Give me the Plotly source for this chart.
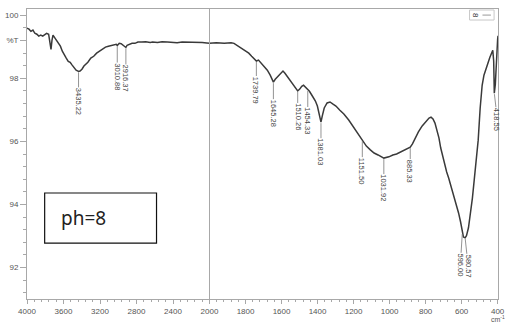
import numpy as np
import plotly.graph_objects as go

# FTIR transmittance spectrum (ph=8), wavenumber in cm-1, transmittance in %T
wavenumber = [
    4000, 3978, 3957, 3935, 3914, 3892, 3871, 3849, 3828, 3806, 3785, 3763,
    3747, 3737, 3726, 3715, 3699, 3677, 3656, 3634, 3613, 3591, 3570, 3548,
    3527, 3505, 3484, 3462, 3441, 3435.22, 3419, 3398, 3376, 3355, 3333, 3301,
    3269, 3237, 3204, 3172, 3140, 3108, 3075, 3043, 3022, 3010.88, 2989, 2968,
    2946, 2930, 2916.37, 2903, 2882, 2849, 2817, 2785, 2742, 2699, 2650, 2624,
    2570, 2520, 2462, 2410, 2355, 2300, 2247, 2190, 2140, 2080, 2030, 2000,
    1962, 1918, 1880, 1864, 1848, 1831, 1815, 1799, 1782, 1766, 1755, 1739.79,
    1728, 1712, 1695, 1679, 1663, 1645.28, 1635, 1619, 1603, 1592, 1581, 1565,
    1548, 1532, 1520, 1510.26, 1499, 1488, 1478, 1467, 1454.33, 1445, 1429,
    1412, 1401, 1390, 1381.03, 1374, 1363, 1347, 1331, 1314, 1298, 1276, 1254,
    1227, 1200, 1173, 1151.50, 1129, 1107, 1086, 1064, 1042, 1031.92, 1004,
    982, 961, 939, 917, 895, 885.33, 873, 857, 840, 819, 797, 781, 770, 759,
    748, 737, 726, 716, 705, 694, 683, 672, 661, 650, 639, 628, 617, 606,
    596.00, 590, 580.57, 573, 562, 551, 540, 530, 520, 508, 497, 486, 476,
    465, 454, 443, 432, 427, 422, 418.55, 413, 406, 400, 398,
]
transmittance = [
    99.59, 99.56, 99.49, 99.53, 99.43, 99.40, 99.34, 99.37, 99.34, 99.40, 99.43, 99.40,
    99.15, 98.92, 99.21, 99.37, 99.30, 99.21, 99.15, 99.02, 98.86, 98.73, 98.64, 98.54,
    98.51, 98.42, 98.32, 98.26, 98.23, 98.22, 98.23, 98.29, 98.39, 98.45, 98.51, 98.64,
    98.70, 98.80, 98.86, 98.92, 98.99, 99.02, 99.05, 99.08, 99.08, 99.04, 99.11, 99.10,
    99.05, 99.01, 98.98, 99.05, 99.08, 99.11, 99.11, 99.15, 99.15, 99.16, 99.14, 99.15,
    99.14, 99.16, 99.15, 99.14, 99.13, 99.15, 99.15, 99.13, 99.13, 99.14, 99.12, 99.11,
    99.13, 99.11, 99.13, 99.11, 99.05, 98.99, 98.92, 98.86, 98.80, 98.70, 98.64, 98.55,
    98.58, 98.48, 98.35, 98.26, 98.10, 97.88, 97.97, 98.07, 98.16, 98.23, 98.16, 98.04,
    97.91, 97.78, 97.68, 97.60, 97.66, 97.75, 97.78, 97.72, 97.63, 97.59, 97.44,
    97.28, 97.12, 96.87, 96.61, 96.80, 97.06, 97.22, 97.25, 97.18, 97.12, 96.99, 96.87,
    96.68, 96.46, 96.23, 96.04, 95.85, 95.73, 95.63, 95.57, 95.51, 95.47, 95.51,
    95.57, 95.60, 95.66, 95.73, 95.79, 95.82, 95.92, 96.11, 96.30, 96.49, 96.65, 96.74, 96.77, 96.71,
    96.58, 96.36, 96.11, 95.79, 95.51, 95.25, 95.03, 94.84, 94.62, 94.40, 94.21, 93.99, 93.73, 93.45,
    93.10, 92.97, 92.94, 93.01, 93.26, 93.67, 94.21, 94.78, 95.41, 96.04, 97.06, 97.78, 98.10,
    98.26, 98.48, 98.67, 98.83, 98.89, 98.55, 97.53, 97.80, 98.90, 99.25, 99.35,
]

# labelled band positions
peak_labels = ["3435.22", "3010.88", "2916.37", "1739.79", "1645.28", "1510.26",
               "1454.33", "1381.03", "1151.50", "1031.92", "885.33", "596.00",
               "580.57", "418.55"]
peak_wn = [float(s) for s in peak_labels]

# axis ticks
left_ticks = [4000, 3600, 3200, 2800, 2400, 2000]
right_ticks = [1800, 1600, 1400, 1200, 1000, 800, 600, 400]
y_tickvals = [100, 99.2, 98, 96, 94, 92]
y_ticktext = ["100", "%T", "98", "96", "94", "92"]

wn = np.array(wavenumber)
tr = np.array(transmittance)
high = wn >= 2000
low = wn <= 2000

LINE = "#3a3a3a"
AXIS = "#a8a8a8"
SANS = "Liberation Sans, Arial, sans-serif"
TICKFONT = dict(family=SANS, size=8, color="#555555")

fig = go.Figure()
fig.add_trace(go.Scatter(x=wn[high], y=tr[high], mode="lines",
                         line=dict(color=LINE, width=1.5), xaxis="x", yaxis="y",
                         showlegend=False, hoverinfo="skip"))
fig.add_trace(go.Scatter(x=wn[low], y=tr[low], mode="lines",
                         line=dict(color=LINE, width=1.5), xaxis="x2", yaxis="y2",
                         showlegend=False, hoverinfo="skip"))

split = 0.3875
common_x = dict(showline=True, mirror=True, linecolor=AXIS, linewidth=1,
                showgrid=False, zeroline=False, ticks="outside", ticklen=4,
                tickcolor=AXIS, tickfont=TICKFONT)

# leader offsets (pixels) for the band labels: (dx, dy)
offsets = {
    "3435.22": (0, 30), "3010.88": (0, 31), "2916.37": (0, 31), "1739.79": (0, 29),
    "1645.28": (0, 31), "1510.26": (0, 26), "1454.33": (0, 31), "1381.03": (0, 30),
    "1151.50": (0, 31), "1031.92": (0, 30), "885.33": (0, 24), "596.00": (-2, 32),
    "580.57": (3, 28), "418.55": (3, 26),
}

annotations = []
for lab, w in zip(peak_labels, peak_wn):
    t = float(np.interp(w, wn[::-1], tr[::-1]))
    dx, dy = offsets[lab]
    ax_ref, ay_ref = ("x", "y") if w >= 2000 else ("x2", "y2")
    annotations.append(dict(
        x=w, y=t, xref=ax_ref, yref=ay_ref, text=lab, textangle=90,
        showarrow=True, arrowhead=0, arrowwidth=0.8, arrowcolor="#777777",
        ax=dx, ay=dy, standoff=1, borderpad=0,
        font=dict(family=SANS, size=7.5, color="#444444"),
    ))

annotations.append(dict(
    x=0.069, y=0.279, xref="paper", yref="paper", text="ph=8", showarrow=False,
    xanchor="left", yanchor="middle",
    font=dict(family="Noto Sans, Open Sans, Arial", size=19, color="#222222"),
))
annotations.append(dict(
    x=1.0, y=0, xref="paper", yref="paper", text="cm<sup>-1</sup>", showarrow=False,
    xanchor="center", yanchor="top", yshift=-14,
    font=dict(family=SANS, size=7, color="#555555"),
))
annotations.append(dict(
    x=0.9535, y=0.979, xref="paper", yref="paper", text="8", showarrow=False,
    xanchor="center", yanchor="middle",
    textangle=90, font=dict(family=SANS, size=8, color="#333333"),
))

shapes = [
    dict(type="rect", xref="paper", yref="paper", x0=0.0375, x1=0.275, y0=0.193, y1=0.3655,
         line=dict(color="#111111", width=1.2), fillcolor="rgba(0,0,0,0)"),
    dict(type="rect", xref="paper", yref="paper", x0=0.9396, x1=0.9917, y0=0.962, y1=0.9966,
         line=dict(color="#c8c8c8", width=1), fillcolor="rgba(0,0,0,0)"),
    dict(type="line", xref="paper", yref="paper", x0=0.967, x1=0.985, y0=0.979, y1=0.979,
         line=dict(color="#9a9a9a", width=1)),
]

fig.update_layout(
    width=512, height=322, autosize=False,
    margin=dict(l=27, r=5, t=9, b=23),
    plot_bgcolor="white", paper_bgcolor="white",
    xaxis=dict(domain=[0, split], range=[4000, 2000], tickvals=left_ticks,
               minor=dict(dtick=80, ticks="outside", ticklen=2, tickcolor=AXIS),
               anchor="y", **common_x),
    xaxis2=dict(domain=[split, 1], range=[2000, 398], tickvals=right_ticks,
                minor=dict(dtick=40, ticks="outside", ticklen=2, tickcolor=AXIS),
                anchor="y2", **common_x),
    yaxis=dict(range=[91.0, 100.2], tickvals=y_tickvals, ticktext=y_ticktext,
               showline=True, mirror=False, linecolor=AXIS, linewidth=1,
               showgrid=False, zeroline=False, ticks="outside", ticklen=6,
               tickcolor=AXIS, tickfont=TICKFONT, anchor="x",
               minor=dict(tick0=92, dtick=0.4, ticks="outside", ticklen=3, tickcolor=AXIS)),
    yaxis2=dict(range=[91.0, 100.2], matches="y", showline=True, mirror=True,
                linecolor=AXIS, linewidth=1, showgrid=False, zeroline=False,
                showticklabels=False, ticks="", anchor="x2"),
    annotations=annotations,
    shapes=shapes,
)

fig.write_html("out.html")
